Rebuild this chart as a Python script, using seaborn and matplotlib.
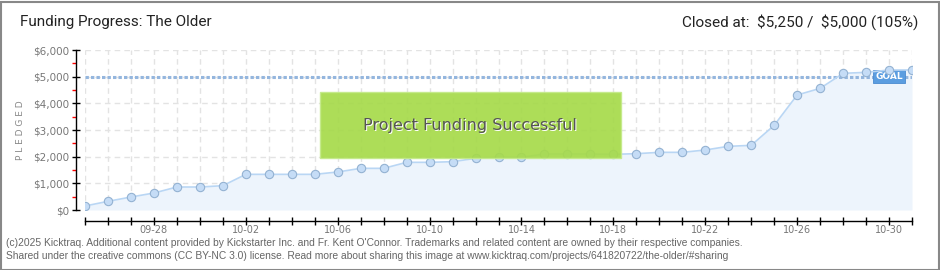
import matplotlib
matplotlib.use("Agg")
import matplotlib.pyplot as plt
import matplotlib.patches as mpatches
import seaborn as sns
import pandas as pd

# ---- data ----
dates = ["2025-09-25", "2025-09-26", "2025-09-27", "2025-09-28", "2025-09-29", "2025-09-30",
         "2025-10-01", "2025-10-02", "2025-10-03", "2025-10-04", "2025-10-05", "2025-10-06",
         "2025-10-07", "2025-10-08", "2025-10-09", "2025-10-10", "2025-10-11", "2025-10-12",
         "2025-10-13", "2025-10-14", "2025-10-15", "2025-10-16", "2025-10-17", "2025-10-18",
         "2025-10-19", "2025-10-20", "2025-10-21", "2025-10-22", "2025-10-23", "2025-10-24",
         "2025-10-25", "2025-10-26", "2025-10-27", "2025-10-28", "2025-10-29", "2025-10-30",
         "2025-10-31"]
pledged = [150, 325, 487, 637, 862, 862, 912, 1337, 1337, 1337, 1337, 1425,
           1562, 1562, 1787, 1787, 1812, 1937, 1975, 1975, 2100, 2100, 2100, 2087,
           2112, 2162, 2162, 2250, 2387, 2425, 3175, 4312, 4562, 5125, 5162, 5250,
           5250]
goal = 5000
y_ticks = [0, 1000, 2000, 3000, 4000, 5000, 6000]
y_tick_labels = ["$0", "$1,000", "$2,000", "$3,000", "$4,000", "$5,000", "$6,000"]
x_label_dates = ["2025-09-28", "2025-10-02", "2025-10-06", "2025-10-10", "2025-10-14",
                 "2025-10-18", "2025-10-22", "2025-10-26", "2025-10-30"]
title = "Funding Progress: The Older"
status = "Closed at:  \\$5,250 /  \\$5,000 (105%)"
banner = "Project Funding Successful"
footer1 = ("(c)2025 Kicktraq. Additional content provided by Kickstarter Inc. and Fr. Kent O'Connor. "
           "Trademarks and related content are owned by their respective companies.")
footer2 = ("Shared under the creative commons (CC BY-NC 3.0) license. Read more about sharing this image "
           "at www.kicktraq.com/projects/641820722/the-older/#sharing")

df = pd.DataFrame({"date": pd.to_datetime(dates), "pledged": pledged})

sns.set_theme(style="white")
plt.rcParams["font.family"] = ["DejaVu Sans"]

W, H = 940, 270
fig = plt.figure(figsize=(W / 100, H / 100), dpi=100)
fig.patch.set_facecolor("white")

L, R, T, B = 85, 912, 50, 210
ax = fig.add_axes([L / W, 1 - B / H, (R - L) / W, (B - T) / H])
ax.set_facecolor("none")

# grid
for d in df["date"]:
    ax.axvline(d, color="#e3e3e3", lw=1, ls=(0, (4, 3)), zorder=0)
for yv in y_ticks[1:]:
    ax.axhline(yv, color="#e3e3e3", lw=1, ls=(0, (4, 3)), zorder=0)

ax.fill_between(df["date"], df["pledged"], 0, color="#edf4fc", zorder=1, lw=0)
sns.lineplot(data=df, x="date", y="pledged", ax=ax, color="#b9d6f4", lw=1.2,
             marker="o", markersize=6, markerfacecolor="#c5dcf6",
             markeredgecolor="#94b2d2", markeredgewidth=0.8, zorder=4)

# goal
ax.axhline(goal, color="#94b6de", lw=2.2, ls=(0, (1.1, 0.7)), zorder=2)
ax.text(pd.Timestamp("2025-10-30"), goal, "GOAL", color="white", fontsize=6.5,
        ha="center", va="center", fontweight="bold", zorder=3,
        bbox=dict(boxstyle="square,pad=0.25", fc="#5b9de0", ec="#4a8ad0", lw=0.6))

ax.set_xlim(df["date"].iloc[0], df["date"].iloc[-1])
ax.set_ylim(0, 6000)

# banner
rect = mpatches.Rectangle((0.284, 0.325), 0.364, 0.4125, transform=ax.transAxes,
                          fc="#a6da4a", ec="#c4ea8a", lw=1, alpha=0.92, zorder=5)
ax.add_patch(rect)
ax.text(0.284 + 0.182 + 0.001, 0.53 - 0.008, banner, transform=ax.transAxes, ha="center",
        va="center", fontsize=11.5, color="white", zorder=6)
ax.text(0.284 + 0.182, 0.53, banner, transform=ax.transAxes, ha="center",
        va="center", fontsize=11.5, color="#555555", zorder=7)

# axes styling
for s in ["top", "right"]:
    ax.spines[s].set_visible(False)
ax.spines["left"].set_position(("outward", 6.5))
ax.spines["bottom"].set_position(("outward", 8))
ax.spines["left"].set_color("black")
ax.spines["bottom"].set_color("black")
ax.spines["left"].set_linewidth(1)
ax.spines["bottom"].set_linewidth(1)

ax.set_yticks(y_ticks)
ax.set_yticklabels(y_tick_labels)
ax.set_yticks([500, 1500, 2500, 3500, 4500, 5500], minor=True)
ax.tick_params(axis="y", which="major", direction="inout", length=6, width=1, color="black",
               labelsize=7.5, labelcolor="#777777", pad=2, left=True)
ax.tick_params(axis="y", which="minor", direction="out", length=3, width=1, color="red", left=True)

ax.set_xticks(df["date"])
ax.set_xticklabels([d.strftime("%m-%d") if d.strftime("%Y-%m-%d") in x_label_dates else ""
                    for d in df["date"]])
ax.tick_params(axis="x", which="major", direction="inout", length=6, width=1, color="black",
               labelsize=7, labelcolor="#777777", pad=0, bottom=True)

ax.set_xlabel("")
ax.set_ylabel("P L E D G E D", fontsize=6.5, color="#888888", labelpad=6)

# header
fig.text(20 / W, 1 - 22 / H, title, fontsize=11, color="#222222", ha="left", va="center",
         family=["Roboto", "DejaVu Sans"])
fig.text(918 / W, 1 - 22 / H, status, fontsize=11, color="#222222", ha="right", va="center",
         family=["Roboto", "DejaVu Sans"])

# footer
fig.text(6 / W, 1 - 243 / H, footer1, fontsize=7.4, color="#666666", ha="left", va="center",
         family=["Liberation Sans", "DejaVu Sans"])
fig.text(6 / W, 1 - 256 / H, footer2, fontsize=7.4, color="#666666", ha="left", va="center",
         family=["Liberation Sans", "DejaVu Sans"])

# border
fig.patches.append(mpatches.Rectangle((0.5 / W, 0.5 / H), 1 - 2 / W, 1 - 2 / H,
                                      transform=fig.transFigure, fill=False,
                                      ec="#888888", lw=1.5))

fig.savefig("out.png", dpi=100, facecolor="white")
